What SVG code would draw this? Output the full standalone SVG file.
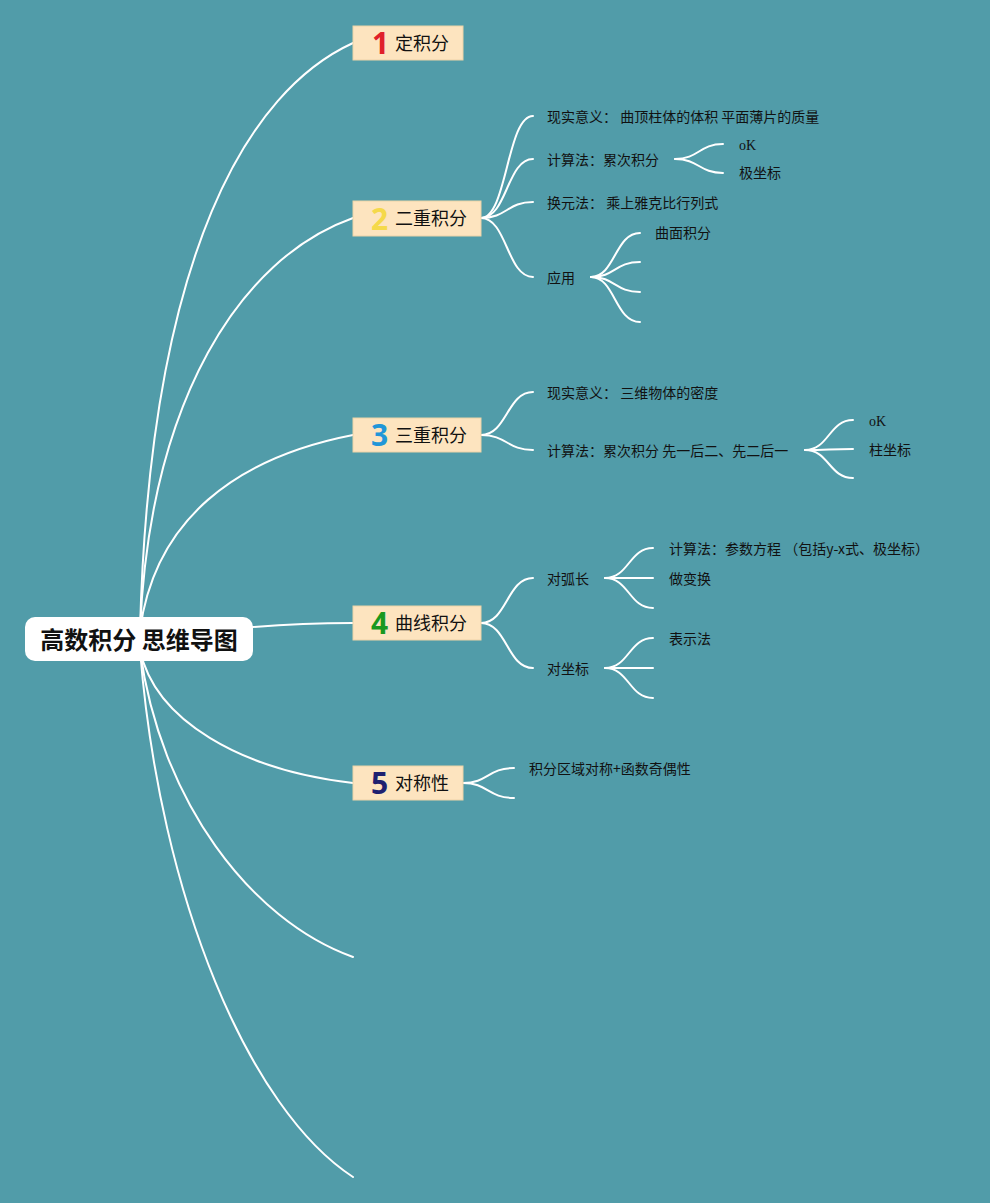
<svg xmlns="http://www.w3.org/2000/svg" width="990" height="1203" viewBox="0 0 990 1203">
<style>
.c{fill:none;stroke:#ffffff;stroke-width:2;stroke-linecap:round}
.box{fill:#fde4bf;stroke:#ecd3a8;stroke-width:1}
.t{font-family:"Noto Sans CJK SC","Noto Sans",sans-serif;font-size:14px;fill:#111111}
.s{font-family:"Liberation Serif",serif;font-size:14px;fill:#111111}
.nt{font-family:"Noto Sans CJK SC","Noto Sans",sans-serif;font-size:18px;fill:#111111}
.num{font-family:"Noto Sans","Noto Sans CJK SC",sans-serif;font-size:30px;font-weight:bold}
.root{font-family:"Noto Sans CJK SC","Noto Sans",sans-serif;font-size:24px;font-weight:bold;fill:#111111}
</style>
<rect x="0" y="0" width="990" height="1203" fill="#519ca9"/>
<g id="connectors">
<path class="c" d="M140,630 C150,250 250,90 353,43"/>
<path class="c" d="M140,630 C150,400 240,258 353,218"/>
<path class="c" d="M140,630 C155,520 235,458 353,435"/>
<path class="c" d="M253,627 C290,624 320,623 353,623"/>
<path class="c" d="M140,650 C155,720 240,770 353,783"/>
<path class="c" d="M140,650 C160,800 250,920 353,957"/>
<path class="c" d="M140,650 C160,900 250,1110 353,1177"/>
<path class="c" d="M481,218 C507,218 507,116 533,116"/>
<path class="c" d="M481,218 C507,218 507,159 533,159"/>
<path class="c" d="M481,218 C507,218 507,202 533,202"/>
<path class="c" d="M481,218 C507,218 507,277 533,277"/>
<path class="c" d="M675,159 C699,159 699,144 723,144"/>
<path class="c" d="M675,159 C699,159 699,173 723,173"/>
<path class="c" d="M591,277 C615,277 615,233 640,233"/>
<path class="c" d="M591,277 C615,277 615,262 640,262"/>
<path class="c" d="M591,277 C615,277 615,292 640,292"/>
<path class="c" d="M591,277 C615,277 615,322 640,322"/>
<path class="c" d="M481,435 C507,435 507,392 533,392"/>
<path class="c" d="M481,435 C507,435 507,450 533,450"/>
<path class="c" d="M805,450 C829,450 829,420 853,420"/>
<path class="c" d="M805,450 C829,450 829,449 853,449"/>
<path class="c" d="M805,450 C829,450 829,478 853,478"/>
<path class="c" d="M481,623 C507,623 507,578 533,578"/>
<path class="c" d="M481,623 C507,623 507,668 533,668"/>
<path class="c" d="M605,578 C629,578 629,548 653,548"/>
<path class="c" d="M605,578 C629,578 629,578 653,578"/>
<path class="c" d="M605,578 C629,578 629,608 653,608"/>
<path class="c" d="M605,668 C629,668 629,638 653,638"/>
<path class="c" d="M605,668 C629,668 629,668 653,668"/>
<path class="c" d="M605,668 C629,668 629,698 653,698"/>
<path class="c" d="M463,783 C488,783 488,768 514,768"/>
<path class="c" d="M463,783 C488,783 488,798 514,798"/>
</g>
<g id="root">
<rect x="25" y="617" width="228" height="44" rx="10" fill="#ffffff"/>
<text class="root" x="139" y="649" text-anchor="middle">高数积分 思维导图</text>
</g>
<g id="n1">
<rect class="box" x="353" y="26" width="110" height="34"/>
<text class="num" x="372" y="54" fill="#e0202a">1</text>
<text class="nt" x="395" y="50">定积分</text>
</g>
<g id="n2">
<rect class="box" x="353" y="201" width="128" height="35"/>
<text class="num" x="371" y="230" fill="#f5d94a">2</text>
<text class="nt" x="395" y="225">二重积分</text>
</g>
<g id="n3">
<rect class="box" x="353" y="418" width="128" height="34"/>
<text class="num" x="371" y="446" fill="#2196d8">3</text>
<text class="nt" x="395" y="442">三重积分</text>
</g>
<g id="n4">
<rect class="box" x="353" y="606" width="128" height="34"/>
<text class="num" x="371" y="634" fill="#19981e">4</text>
<text class="nt" x="395" y="630">曲线积分</text>
</g>
<g id="n5">
<rect class="box" x="353" y="766" width="110" height="34"/>
<text class="num" x="371" y="794" fill="#1e2070">5</text>
<text class="nt" x="395" y="790">对称性</text>
</g>
<g id="n2a"><text class="t" x="547" y="122">现实意义： 曲顶柱体的体积 平面薄片的质量</text></g>
<g id="n2b"><text class="t" x="547" y="165">计算法：累次积分</text></g>
<g id="n2b1"><text class="s" x="739" y="150">oK</text></g>
<g id="n2b2"><text class="t" x="739" y="178">极坐标</text></g>
<g id="n2c"><text class="t" x="547" y="208">换元法： 乘上雅克比行列式</text></g>
<g id="n2d"><text class="t" x="547" y="283">应用</text></g>
<g id="n2d1"><text class="t" x="655" y="238">曲面积分</text></g>
<g id="n3a"><text class="t" x="547" y="398">现实意义： 三维物体的密度</text></g>
<g id="n3b"><text class="t" x="547" y="456">计算法：累次积分 先一后二、先二后一</text></g>
<g id="n3b1"><text class="s" x="869" y="426">oK</text></g>
<g id="n3b2"><text class="t" x="869" y="455">柱坐标</text></g>
<g id="n4a"><text class="t" x="547" y="584">对弧长</text></g>
<g id="n4a1"><text class="t" x="669" y="554">计算法：参数方程 （包括y-x式、极坐标）</text></g>
<g id="n4a2"><text class="t" x="669" y="584">做变换</text></g>
<g id="n4b"><text class="t" x="547" y="674">对坐标</text></g>
<g id="n4b1"><text class="t" x="669" y="644">表示法</text></g>
<g id="n5a"><text class="t" x="529" y="774">积分区域对称+函数奇偶性</text></g>
</svg>
